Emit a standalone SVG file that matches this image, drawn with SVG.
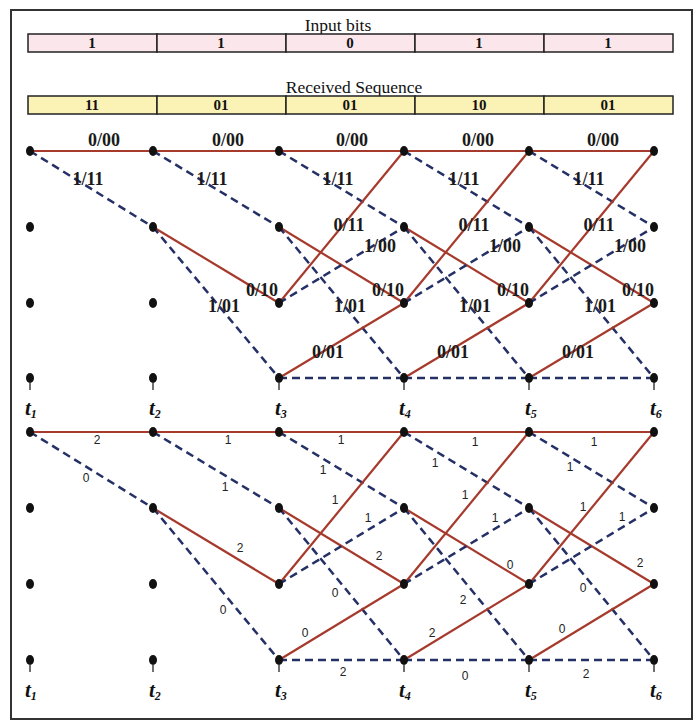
<svg xmlns="http://www.w3.org/2000/svg" width="699" height="722" viewBox="0 0 699 722">
  <style>
    .frame { fill: #ffffff; stroke: #333333; stroke-width: 2; }
    .cellP { fill: #fbe6ec; stroke: #222222; stroke-width: 1.5; }
    .cellY { fill: #fbf3b6; stroke: #222222; stroke-width: 1.5; }
    .hdr { font-family: "Liberation Serif", serif; font-size: 17.5px; fill: #111111; text-anchor: middle; }
    .cell { font-family: "Liberation Serif", serif; font-size: 15px; font-weight: bold; fill: #111111; text-anchor: middle; }
    .s { stroke: #a63a2c; stroke-width: 2.2; fill: none; }
    .d { stroke: #243066; stroke-width: 2.5; fill: none; stroke-dasharray: 8 5; }
    .node { fill: #111111; }
    .tick { stroke: #111111; stroke-width: 1.2; }
    .lab { font-family: "Liberation Serif", serif; font-size: 18px; font-weight: bold; fill: #1a1a1a; text-anchor: middle; }
    .met { font-family: "Liberation Sans", sans-serif; font-size: 12px; fill: #222222; text-anchor: middle; }
    .tl { font-family: "Liberation Serif", serif; font-size: 21px; font-weight: bold; font-style: italic; fill: #111111; }
    .sub { font-size: 12px; }
  </style>

  <rect class="frame" x="11" y="10" width="681" height="709"/>

  <!-- header tables -->
  <g id="input-bits">
    <text class="hdr" x="338" y="31">Input bits</text>
    <rect class="cellP" x="28" y="34" width="129" height="18"/>
    <rect class="cellP" x="157" y="34" width="129" height="18"/>
    <rect class="cellP" x="286" y="34" width="129" height="18"/>
    <rect class="cellP" x="415" y="34" width="129" height="18"/>
    <rect class="cellP" x="544" y="34" width="129" height="18"/>
    <text class="cell" x="92" y="48">1</text>
    <text class="cell" x="221" y="48">1</text>
    <text class="cell" x="350" y="48">0</text>
    <text class="cell" x="479" y="48">1</text>
    <text class="cell" x="608" y="48">1</text>
  </g>
  <g id="received-sequence">
    <text class="hdr" x="354" y="93">Received Sequence</text>
    <rect class="cellY" x="28" y="96" width="129" height="18"/>
    <rect class="cellY" x="157" y="96" width="129" height="18"/>
    <rect class="cellY" x="286" y="96" width="129" height="18"/>
    <rect class="cellY" x="415" y="96" width="129" height="18"/>
    <rect class="cellY" x="544" y="96" width="129" height="18"/>
    <text class="cell" x="92" y="110">11</text>
    <text class="cell" x="221" y="110">01</text>
    <text class="cell" x="350" y="110">01</text>
    <text class="cell" x="479" y="110">10</text>
    <text class="cell" x="608" y="110">01</text>
  </g>

  <!-- upper trellis: branch outputs -->
  <g id="connectors-upper">
    <!-- t1 -> t2 -->
    <line class="s" x1="30" y1="151" x2="153" y2="151"/>
    <line class="d" x1="30" y1="151" x2="153" y2="227"/>
    <!-- t2 -> t3 -->
    <line class="s" x1="153" y1="151" x2="279" y2="151"/>
    <line class="d" x1="153" y1="151" x2="279" y2="227"/>
    <line class="s" x1="153" y1="227" x2="279" y2="303"/>
    <line class="d" x1="153" y1="227" x2="279" y2="378"/>
    <!-- t3 -> t4 -->
    <line class="s" x1="279" y1="151" x2="404" y2="151"/>
    <line class="d" x1="279" y1="151" x2="404" y2="227"/>
    <line class="s" x1="279" y1="227" x2="404" y2="303"/>
    <line class="d" x1="279" y1="227" x2="404" y2="378"/>
    <line class="s" x1="279" y1="303" x2="404" y2="151"/>
    <line class="d" x1="279" y1="303" x2="404" y2="227"/>
    <line class="s" x1="279" y1="378" x2="404" y2="303"/>
    <line class="d" x1="279" y1="378" x2="404" y2="378"/>
    <!-- t4 -> t5 -->
    <line class="s" x1="404" y1="151" x2="529" y2="151"/>
    <line class="d" x1="404" y1="151" x2="529" y2="227"/>
    <line class="s" x1="404" y1="227" x2="529" y2="303"/>
    <line class="d" x1="404" y1="227" x2="529" y2="378"/>
    <line class="s" x1="404" y1="303" x2="529" y2="151"/>
    <line class="d" x1="404" y1="303" x2="529" y2="227"/>
    <line class="s" x1="404" y1="378" x2="529" y2="303"/>
    <line class="d" x1="404" y1="378" x2="529" y2="378"/>
    <!-- t5 -> t6 -->
    <line class="s" x1="529" y1="151" x2="654" y2="151"/>
    <line class="d" x1="529" y1="151" x2="654" y2="227"/>
    <line class="s" x1="529" y1="227" x2="654" y2="303"/>
    <line class="d" x1="529" y1="227" x2="654" y2="378"/>
    <line class="s" x1="529" y1="303" x2="654" y2="151"/>
    <line class="d" x1="529" y1="303" x2="654" y2="227"/>
    <line class="s" x1="529" y1="378" x2="654" y2="303"/>
    <line class="d" x1="529" y1="378" x2="654" y2="378"/>
  </g>

  <g id="labels-upper">
    <text class="lab" x="104" y="146">0/00</text>
    <text class="lab" x="228" y="146">0/00</text>
    <text class="lab" x="352" y="146">0/00</text>
    <text class="lab" x="478" y="146">0/00</text>
    <text class="lab" x="603" y="146">0/00</text>
    <text class="lab" x="88" y="185">1/11</text>
    <text class="lab" x="212" y="185">1/11</text>
    <text class="lab" x="338" y="185">1/11</text>
    <text class="lab" x="464" y="185">1/11</text>
    <text class="lab" x="589" y="185">1/11</text>
    <text class="lab" x="349" y="231">0/11</text>
    <text class="lab" x="474" y="231">0/11</text>
    <text class="lab" x="599" y="231">0/11</text>
    <text class="lab" x="380" y="252">1/00</text>
    <text class="lab" x="505" y="252">1/00</text>
    <text class="lab" x="630" y="252">1/00</text>
    <text class="lab" x="262" y="296">0/10</text>
    <text class="lab" x="388" y="296">0/10</text>
    <text class="lab" x="513" y="296">0/10</text>
    <text class="lab" x="638" y="296">0/10</text>
    <text class="lab" x="224" y="312">1/01</text>
    <text class="lab" x="350" y="312">1/01</text>
    <text class="lab" x="475" y="312">1/01</text>
    <text class="lab" x="600" y="312">1/01</text>
    <text class="lab" x="328" y="358">0/01</text>
    <text class="lab" x="453" y="358">0/01</text>
    <text class="lab" x="578" y="358">0/01</text>
  </g>

  <!-- upper trellis: states -->
  <g id="nodes-upper">
    <g id="u-t1"><ellipse class="node" cx="30" cy="151" rx="4" ry="5"/><ellipse class="node" cx="30" cy="227" rx="4" ry="5"/><ellipse class="node" cx="30" cy="303" rx="4" ry="5"/><ellipse class="node" cx="30" cy="378" rx="4" ry="5"/><line class="tick" x1="30" y1="383" x2="30" y2="390"/></g>
    <g id="u-t2"><ellipse class="node" cx="153" cy="151" rx="4" ry="5"/><ellipse class="node" cx="153" cy="227" rx="4" ry="5"/><ellipse class="node" cx="153" cy="303" rx="4" ry="5"/><ellipse class="node" cx="153" cy="378" rx="4" ry="5"/><line class="tick" x1="153" y1="383" x2="153" y2="390"/></g>
    <g id="u-t3"><ellipse class="node" cx="279" cy="151" rx="4" ry="5"/><ellipse class="node" cx="279" cy="227" rx="4" ry="5"/><ellipse class="node" cx="279" cy="303" rx="4" ry="5"/><ellipse class="node" cx="279" cy="378" rx="4" ry="5"/><line class="tick" x1="279" y1="383" x2="279" y2="390"/></g>
    <g id="u-t4"><ellipse class="node" cx="404" cy="151" rx="4" ry="5"/><ellipse class="node" cx="404" cy="227" rx="4" ry="5"/><ellipse class="node" cx="404" cy="303" rx="4" ry="5"/><ellipse class="node" cx="404" cy="378" rx="4" ry="5"/><line class="tick" x1="404" y1="383" x2="404" y2="390"/></g>
    <g id="u-t5"><ellipse class="node" cx="529" cy="151" rx="4" ry="5"/><ellipse class="node" cx="529" cy="227" rx="4" ry="5"/><ellipse class="node" cx="529" cy="303" rx="4" ry="5"/><ellipse class="node" cx="529" cy="378" rx="4" ry="5"/><line class="tick" x1="529" y1="383" x2="529" y2="390"/></g>
    <g id="u-t6"><ellipse class="node" cx="654" cy="151" rx="4" ry="5"/><ellipse class="node" cx="654" cy="227" rx="4" ry="5"/><ellipse class="node" cx="654" cy="303" rx="4" ry="5"/><ellipse class="node" cx="654" cy="378" rx="4" ry="5"/><line class="tick" x1="654" y1="383" x2="654" y2="390"/></g>
  </g>
  <g id="time-upper">
    <text class="tl" x="25" y="415">t<tspan class="sub" dy="3">1</tspan></text>
    <text class="tl" x="149" y="415">t<tspan class="sub" dy="3">2</tspan></text>
    <text class="tl" x="275" y="415">t<tspan class="sub" dy="3">3</tspan></text>
    <text class="tl" x="399" y="415">t<tspan class="sub" dy="3">4</tspan></text>
    <text class="tl" x="525" y="415">t<tspan class="sub" dy="3">5</tspan></text>
    <text class="tl" x="650" y="415">t<tspan class="sub" dy="3">6</tspan></text>
  </g>

  <!-- lower trellis: branch metrics -->
  <g id="connectors-lower">
    <line class="s" x1="30" y1="432" x2="153" y2="432"/>
    <line class="d" x1="30" y1="432" x2="153" y2="508"/>
    <line class="s" x1="153" y1="432" x2="279" y2="432"/>
    <line class="d" x1="153" y1="432" x2="279" y2="508"/>
    <line class="s" x1="153" y1="508" x2="279" y2="584"/>
    <line class="d" x1="153" y1="508" x2="279" y2="660"/>
    <line class="s" x1="279" y1="432" x2="404" y2="432"/>
    <line class="d" x1="279" y1="432" x2="404" y2="508"/>
    <line class="s" x1="279" y1="508" x2="404" y2="584"/>
    <line class="d" x1="279" y1="508" x2="404" y2="660"/>
    <line class="s" x1="279" y1="584" x2="404" y2="432"/>
    <line class="d" x1="279" y1="584" x2="404" y2="508"/>
    <line class="s" x1="279" y1="660" x2="404" y2="584"/>
    <line class="d" x1="279" y1="660" x2="404" y2="660"/>
    <line class="s" x1="404" y1="432" x2="529" y2="432"/>
    <line class="d" x1="404" y1="432" x2="529" y2="508"/>
    <line class="s" x1="404" y1="508" x2="529" y2="584"/>
    <line class="d" x1="404" y1="508" x2="529" y2="660"/>
    <line class="s" x1="404" y1="584" x2="529" y2="432"/>
    <line class="d" x1="404" y1="584" x2="529" y2="508"/>
    <line class="s" x1="404" y1="660" x2="529" y2="584"/>
    <line class="d" x1="404" y1="660" x2="529" y2="660"/>
    <line class="s" x1="529" y1="432" x2="654" y2="432"/>
    <line class="d" x1="529" y1="432" x2="654" y2="508"/>
    <line class="s" x1="529" y1="508" x2="654" y2="584"/>
    <line class="d" x1="529" y1="508" x2="654" y2="660"/>
    <line class="s" x1="529" y1="584" x2="654" y2="432"/>
    <line class="d" x1="529" y1="584" x2="654" y2="508"/>
    <line class="s" x1="529" y1="660" x2="654" y2="584"/>
    <line class="d" x1="529" y1="660" x2="654" y2="660"/>
  </g>

  <g id="metrics-lower">
    <text class="met" x="97" y="444">2</text>
    <text class="met" x="228" y="444">1</text>
    <text class="met" x="341" y="444">1</text>
    <text class="met" x="475" y="446">1</text>
    <text class="met" x="594" y="446">1</text>
    <text class="met" x="86" y="482">0</text>
    <text class="met" x="225" y="491">1</text>
    <text class="met" x="323" y="474">1</text>
    <text class="met" x="435" y="467">1</text>
    <text class="met" x="570" y="471">1</text>
    <text class="met" x="335" y="504">1</text>
    <text class="met" x="465" y="499">1</text>
    <text class="met" x="583" y="511">1</text>
    <text class="met" x="368" y="522">1</text>
    <text class="met" x="495" y="522">1</text>
    <text class="met" x="622" y="521">1</text>
    <text class="met" x="240" y="552">2</text>
    <text class="met" x="379" y="560">2</text>
    <text class="met" x="510" y="569">0</text>
    <text class="met" x="640" y="567">2</text>
    <text class="met" x="223" y="614">0</text>
    <text class="met" x="335" y="597">0</text>
    <text class="met" x="463" y="604">2</text>
    <text class="met" x="583" y="592">0</text>
    <text class="met" x="305" y="637">0</text>
    <text class="met" x="432" y="637">2</text>
    <text class="met" x="562" y="633">0</text>
    <text class="met" x="343" y="676">2</text>
    <text class="met" x="465" y="680">0</text>
    <text class="met" x="586" y="678">2</text>
  </g>

  <!-- lower trellis: states -->
  <g id="nodes-lower">
    <g id="l-t1"><ellipse class="node" cx="30" cy="432" rx="4" ry="5"/><ellipse class="node" cx="30" cy="508" rx="4" ry="5"/><ellipse class="node" cx="30" cy="584" rx="4" ry="5"/><ellipse class="node" cx="30" cy="660" rx="4" ry="5"/><line class="tick" x1="30" y1="665" x2="30" y2="672"/></g>
    <g id="l-t2"><ellipse class="node" cx="153" cy="432" rx="4" ry="5"/><ellipse class="node" cx="153" cy="508" rx="4" ry="5"/><ellipse class="node" cx="153" cy="584" rx="4" ry="5"/><ellipse class="node" cx="153" cy="660" rx="4" ry="5"/><line class="tick" x1="153" y1="665" x2="153" y2="672"/></g>
    <g id="l-t3"><ellipse class="node" cx="279" cy="432" rx="4" ry="5"/><ellipse class="node" cx="279" cy="508" rx="4" ry="5"/><ellipse class="node" cx="279" cy="584" rx="4" ry="5"/><ellipse class="node" cx="279" cy="660" rx="4" ry="5"/><line class="tick" x1="279" y1="665" x2="279" y2="672"/></g>
    <g id="l-t4"><ellipse class="node" cx="404" cy="432" rx="4" ry="5"/><ellipse class="node" cx="404" cy="508" rx="4" ry="5"/><ellipse class="node" cx="404" cy="584" rx="4" ry="5"/><ellipse class="node" cx="404" cy="660" rx="4" ry="5"/><line class="tick" x1="404" y1="665" x2="404" y2="672"/></g>
    <g id="l-t5"><ellipse class="node" cx="529" cy="432" rx="4" ry="5"/><ellipse class="node" cx="529" cy="508" rx="4" ry="5"/><ellipse class="node" cx="529" cy="584" rx="4" ry="5"/><ellipse class="node" cx="529" cy="660" rx="4" ry="5"/><line class="tick" x1="529" y1="665" x2="529" y2="672"/></g>
    <g id="l-t6"><ellipse class="node" cx="654" cy="432" rx="4" ry="5"/><ellipse class="node" cx="654" cy="508" rx="4" ry="5"/><ellipse class="node" cx="654" cy="584" rx="4" ry="5"/><ellipse class="node" cx="654" cy="660" rx="4" ry="5"/><line class="tick" x1="654" y1="665" x2="654" y2="672"/></g>
  </g>
  <g id="time-lower">
    <text class="tl" x="25" y="697">t<tspan class="sub" dy="3">1</tspan></text>
    <text class="tl" x="149" y="697">t<tspan class="sub" dy="3">2</tspan></text>
    <text class="tl" x="275" y="697">t<tspan class="sub" dy="3">3</tspan></text>
    <text class="tl" x="399" y="697">t<tspan class="sub" dy="3">4</tspan></text>
    <text class="tl" x="525" y="697">t<tspan class="sub" dy="3">5</tspan></text>
    <text class="tl" x="650" y="697">t<tspan class="sub" dy="3">6</tspan></text>
  </g>
</svg>
